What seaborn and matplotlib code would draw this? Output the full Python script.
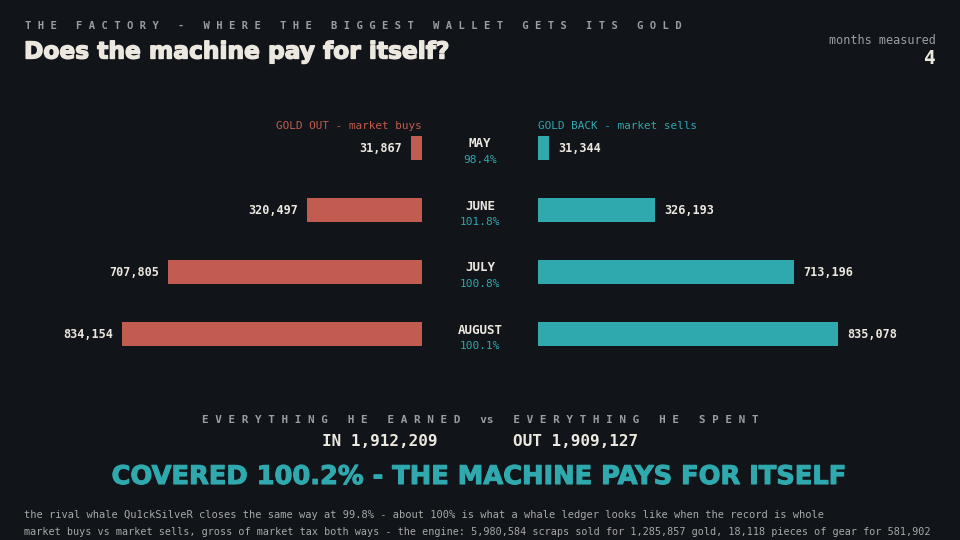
import numpy as np
import pandas as pd
import seaborn as sns
import matplotlib
matplotlib.use('Agg')
import matplotlib.pyplot as plt
import matplotlib.patheffects as pe

# data
months = ['MAY', 'JUNE', 'JULY', 'AUGUST']
gold_out = [31867, 320497, 707805, 834154]   # market buys
gold_back = [31344, 326193, 713196, 835078]  # market sells
total_in = 1912209
total_out = 1909127
months_measured = 4

BG = '#111418'
RED = '#c25c50'
TEAL = '#2fa8ae'
WHITE = '#ece8e0'
GRAY = '#9a9ea3'
MONO = 'DejaVu Sans Mono'

sns.set_theme(style='dark', rc={'axes.facecolor': BG, 'figure.facecolor': BG})
plt.rcParams['font.family'] = ['DejaVu Sans']

df = pd.DataFrame({'month': months, 'out': gold_out, 'back': gold_back})
df['pct'] = df['back'] / df['out'] * 100

fig = plt.figure(figsize=(9.6, 5.4), dpi=100)
W, H = 960.0, 540.0


def px(x, y):
    return x / W, 1 - y / H


xmax = 835078 * 400 / 300.0
ax_l = fig.add_axes([22 / W, 175 / H, 400 / W, 248 / H])
ax_r = fig.add_axes([538 / W, 175 / H, 400 / W, 248 / H])

sns.barplot(data=df, x='out', y='month', order=months, orient='h', color=RED,
            saturation=1, width=0.39, linewidth=0, ax=ax_l)
sns.barplot(data=df, x='back', y='month', order=months, orient='h', color=TEAL,
            saturation=1, width=0.39, linewidth=0, ax=ax_r)

ax_l.set_xlim(xmax, 0)
ax_r.set_xlim(0, xmax)
for ax in (ax_l, ax_r):
    ax.set_ylim(3.5, -0.5)
    ax.set_facecolor('none')
    ax.set_xlabel('')
    ax.set_ylabel('')
    ax.set_xticks([])
    ax.set_yticks([])
    for s in ax.spines.values():
        s.set_visible(False)

gap = 9 * xmax / 400
for i, row in df.iterrows():
    ax_l.text(row['out'] + gap, i, f"{row['out']:,}", ha='right', va='center',
              color=WHITE, fontsize=8.5, fontweight='bold', family=MONO)
    ax_r.text(row['back'] + gap, i, f"{row['back']:,}", ha='left', va='center',
              color=WHITE, fontsize=8.5, fontweight='bold', family=MONO)
    yc = 148 + 62 * i
    fig.text(*px(480, yc - 4), row['month'], ha='center', va='center',
             color=WHITE, fontsize=9, fontweight='bold', family=MONO)
    fig.text(*px(480, yc + 12), f"{row['pct']:.1f}%", ha='center', va='center',
             color=TEAL, fontsize=8, family=MONO)

fig.text(*px(422, 126), 'GOLD OUT - market buys', ha='right', va='center',
         color=RED, fontsize=7.9, family=MONO)
fig.text(*px(538, 126), 'GOLD BACK - market sells', ha='left', va='center',
         color=TEAL, fontsize=7.9, family=MONO)

# header
kicker = 'THE FACTORY - WHERE THE BIGGEST WALLET GETS ITS GOLD'
fig.text(*px(25, 26), ' '.join(kicker), ha='left', va='center', color=GRAY,
         fontsize=7.55, fontweight='bold', family=MONO)
fig.text(*px(24, 52), 'Does the machine pay for itself?', ha='left', va='center',
         color=WHITE, fontsize=16.8, fontweight='heavy', family='DejaVu Sans',
         path_effects=[pe.withStroke(linewidth=1.0, foreground=WHITE)])
fig.text(*px(936, 40), 'months measured', ha='right', va='center',
         color=GRAY, fontsize=8.5, family=MONO)
fig.text(*px(936, 59), str(months_measured), ha='right', va='center',
         color=WHITE, fontsize=14, fontweight='bold', family=MONO)

# totals
left_part = ' '.join('EVERYTHING HE EARNED')
right_part = ' '.join('EVERYTHING HE SPENT')
fig.text(*px(480, 420), left_part + '   vs   ' + right_part, ha='center', va='center',
         color=GRAY, fontsize=7.9, fontweight='bold', family=MONO)
fig.text(*px(380, 442), f'IN {total_in:,}', ha='center', va='center',
         color=WHITE, fontsize=11.5, fontweight='bold', family=MONO)
fig.text(*px(576, 442), f'OUT {total_out:,}', ha='center', va='center',
         color=WHITE, fontsize=11.5, fontweight='bold', family=MONO)
covered = total_in / total_out * 100
fig.text(*px(480, 477), f'COVERED {covered:.1f}% - THE MACHINE PAYS FOR ITSELF',
         ha='center', va='center', color=TEAL, fontsize=18.5, fontweight='bold',
         family=['Liberation Sans Narrow', 'DejaVu Sans'],
         path_effects=[pe.withStroke(linewidth=0.8, foreground=TEAL)])

fig.text(*px(24, 515), 'the rival whale Qu1ckSilveR closes the same way at 99.8% - about 100% '
         'is what a whale ledger looks like when the record is whole',
         ha='left', va='center', color='#a6a8a8', fontsize=7.47, family=MONO)
fig.text(*px(24, 532), 'market buys vs market sells, gross of market tax both ways - the engine: '
         '5,980,584 scraps sold for 1,285,857 gold, 18,118 pieces of gear for 581,902',
         ha='left', va='center', color='#a6a8a8', fontsize=7.3, family=MONO)

fig.savefig('out.png', dpi=100, facecolor=BG)
